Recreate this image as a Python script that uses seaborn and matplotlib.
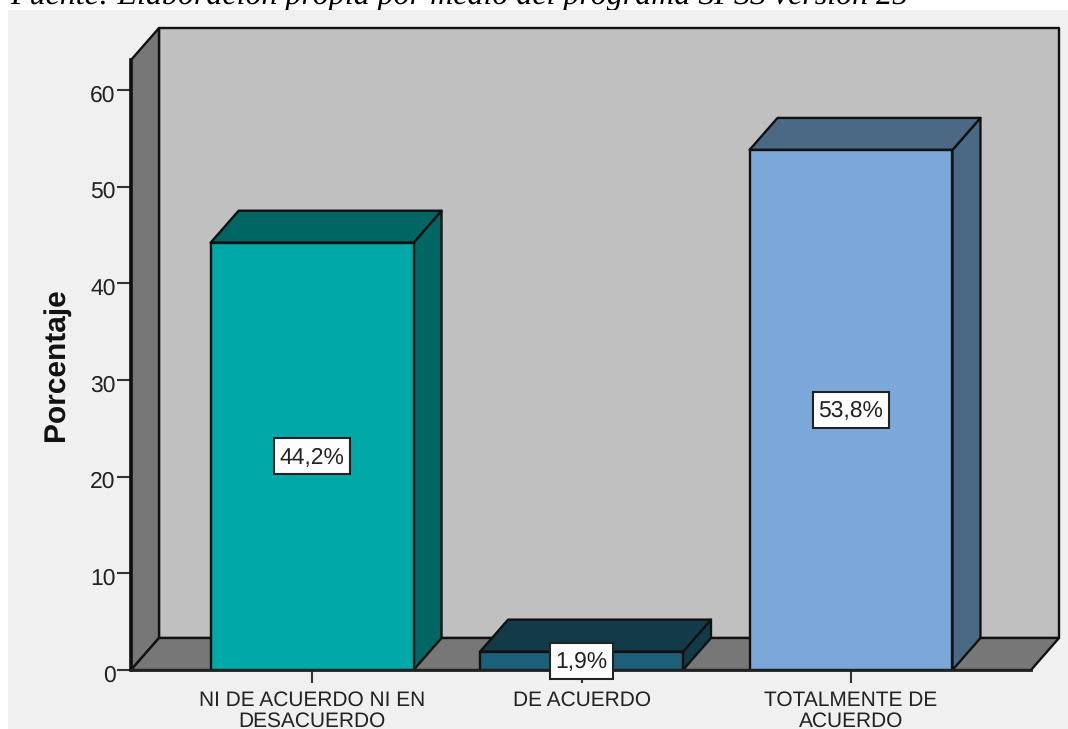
import matplotlib
matplotlib.use('Agg')
import matplotlib.pyplot as plt
from matplotlib.patches import Polygon, Rectangle
from matplotlib.transforms import IdentityTransform, ScaledTranslation
import pandas as pd
import seaborn as sns

categorias = ['NI DE ACUERDO NI EN\nDESACUERDO', 'DE ACUERDO', 'TOTALMENTE DE\nACUERDO']
porcentajes = [44.2, 1.9, 53.8]
etiquetas = ['44,2%', '1,9%', '53,8%']
ticks_y = [0, 10, 20, 30, 40, 50, 60]
caption = 'Fuente: Elaboración propia por medio del programa SPSS versión 25'

colores_frente = ['#00a8a8', '#1b5f78', '#7ba8d8']
colores_lado = ['#006663', '#123a49', '#4b6985']
C_FONDO = '#f0f0f0'
C_PARED = '#c0c0c0'
C_GRIS = '#777777'
C_LINEA = '#111111'
C_TEXTO = '#222222'

W, H = 1068, 729
sns.set_theme(style='white')
plt.rcParams['font.family'] = ['Liberation Sans', 'DejaVu Sans']
plt.rcParams['text.hinting'] = 'no_hinting'

fig = plt.figure(figsize=(W / 100, H / 100), dpi=100, facecolor='white')
fig.add_artist(Rectangle((8 / W, 0), 1 - 8 / W, 1 - 10 / H, transform=fig.transFigure,
                         facecolor=C_FONDO, edgecolor='none', zorder=-1))
fig.text(10 / W, 1 - 4 / H, caption, family='Liberation Serif', style='italic',
         fontsize=23, color='black', ha='left', va='baseline', zorder=-2)

ax = fig.add_axes([131 / W, (H - 670) / H, 900 / W, 610 / H])
ax.patch.set_alpha(0)

df = pd.DataFrame({'categoria': categorias, 'porcentaje': porcentajes})
sns.barplot(data=df, x='categoria', y='porcentaje', hue='categoria', palette=colores_frente,
            width=0.753, edgecolor=C_LINEA, linewidth=1.7, legend=False, saturation=1, ax=ax, zorder=3)

ax.set_xlim(-0.672, 2.668)
ax.set_ylim(0, 63.1)

# profundidad del efecto 3D en unidades de datos
dx = 28 / 269.5
dy = 32 / 9.667
x0, x1 = ax.get_xlim()
y0, y1 = ax.get_ylim()


def cara(puntos, color, z):
    ax.add_patch(Polygon(puntos, closed=True, facecolor=color, edgecolor=C_LINEA,
                         linewidth=1.7, clip_on=False, zorder=z, joinstyle='round'))


cara([(x0 + dx, y0 + dy), (x1 + dx, y0 + dy), (x1 + dx, y1 + dy), (x0 + dx, y1 + dy)], C_PARED, 0.5)
cara([(x0, y0), (x0 + dx, y0 + dy), (x0 + dx, y1 + dy), (x0, y1)], C_GRIS, 0.6)
cara([(x0, y0), (x1, y0), (x1 + dx, y0 + dy), (x0 + dx, y0 + dy)], C_GRIS, 0.6)

for i, barra in enumerate(ax.patches[:len(porcentajes)]):
    bx, bw, bh = barra.get_x(), barra.get_width(), barra.get_height()
    cara([(bx + bw, 0), (bx + bw + dx, dy), (bx + bw + dx, bh + dy), (bx + bw, bh)], colores_lado[i], 1.5 + i)
    cara([(bx, bh), (bx + bw, bh), (bx + bw + dx, bh + dy), (bx + dx, bh + dy)], colores_lado[i], 1.5 + i)
    barra.set_zorder(2 + i)

for s in ['top', 'right']:
    ax.spines[s].set_visible(False)
ax.spines['left'].set_linewidth(2.6)
ax.spines['left'].set_color(C_LINEA)
ax.spines['left'].set_zorder(8)
ax.spines['bottom'].set_linewidth(2)
ax.spines['bottom'].set_color('#222222')
ax.spines['bottom'].set_zorder(8)

ax.set_yticks(ticks_y)
ax.tick_params(axis='y', left=True, length=10, width=1.5, color='#333333', pad=1,
               labelsize=16.5, labelcolor=C_TEXTO)
ax.tick_params(axis='x', bottom=True, length=9.5, width=1.5, color='#333333', pad=5.5,
               labelsize=15, labelcolor=C_TEXTO)
ax.set_xlabel('')
ax.set_ylabel('')
for t in ax.get_xticklabels():
    t.set_linespacing(1.08)
# los numeros del eje quedan un poco por debajo de la marca
bajar = ScaledTranslation(0, -3 / 100, fig.dpi_scale_trans)
for t in ax.get_yticklabels():
    t.set_transform(t.get_transform() + bajar)
fig.text(56 / W, 1 - 364.5 / H, 'Porcentaje', rotation=90, fontsize=21.5, fontweight='bold',
         color='#111111', ha='center', va='center')

# etiquetas de valor con caja blanca, centradas en la barra
fig.canvas.draw()
renderer = fig.canvas.get_renderer()
for i, barra in enumerate(ax.patches[:len(porcentajes)]):
    cx = barra.get_x() + barra.get_width() / 2
    t = ax.annotate(etiquetas[i], (cx, barra.get_height() / 2), xytext=(0, -1), textcoords='offset points',
                    ha='center', va='center', fontsize=16.5, color=C_TEXTO, zorder=21, annotation_clip=False)
    bb = t.get_window_extent(renderer)
    px, py = ax.transData.transform((cx, barra.get_height() / 2))
    caja_w = bb.width + 11
    caja_h = 36
    ax.add_patch(Rectangle((px - caja_w / 2, py - caja_h / 2), caja_w, caja_h, transform=IdentityTransform(),
                           facecolor='white', edgecolor='#222222', linewidth=1.5, clip_on=False, zorder=20))

fig.savefig('out.png', dpi=100, facecolor='white')
